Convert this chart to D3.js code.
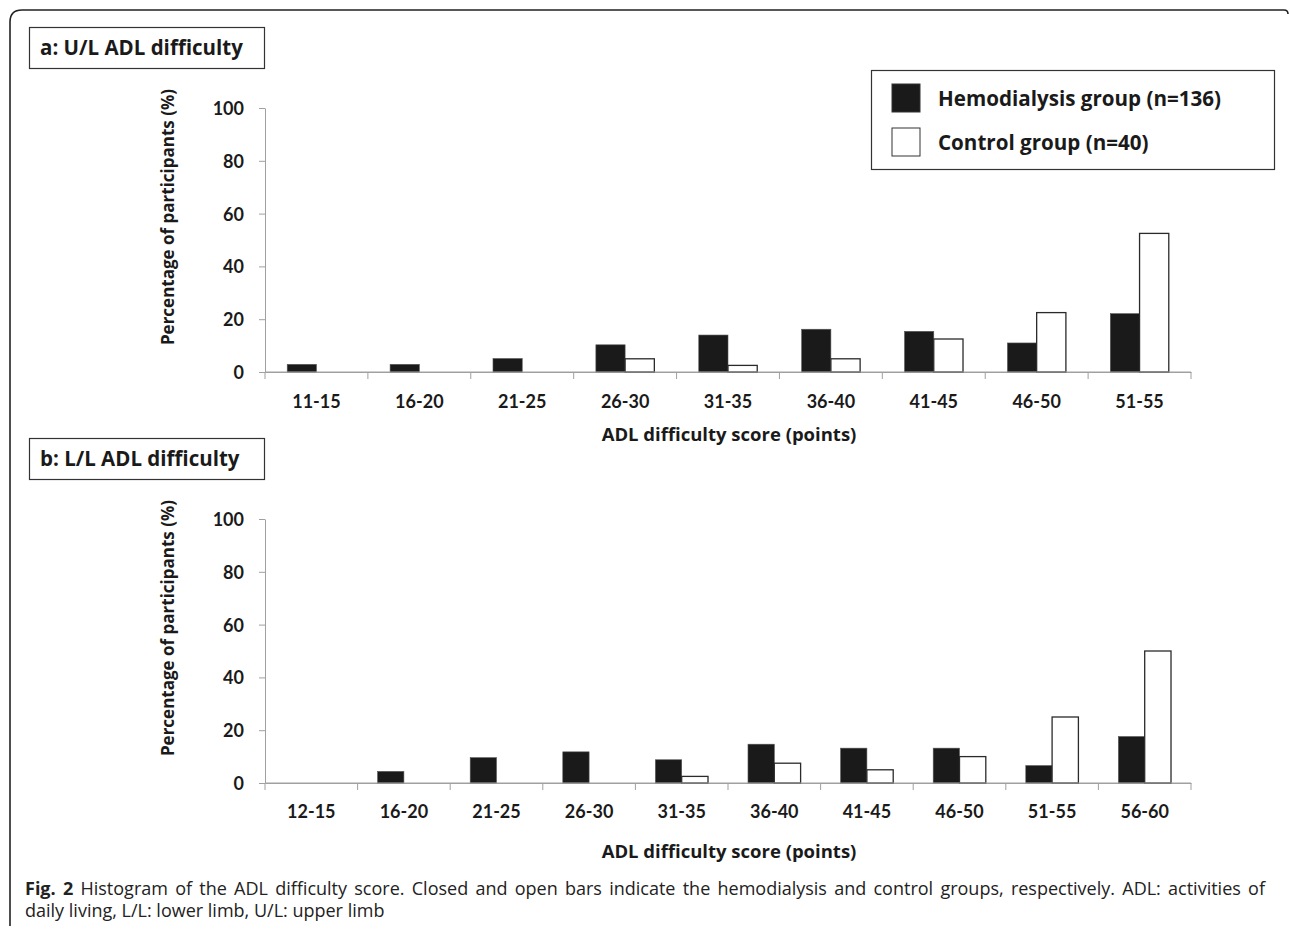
<!DOCTYPE html>
<html>
<head>
<meta charset="utf-8">
<script src="https://cdn.jsdelivr.net/npm/d3@7"></script>
<style>
  body { margin: 0; background: #fff; }
  svg { display: block; font-family: "Open Sans", "Noto Sans", sans-serif; }
  .axis .domain, .axis line { stroke: #a0a0a0; }
  .axis text { font-family: Lato, sans-serif; font-weight: 700; font-size: 18px; fill: #1a1a1a; }
  .lbl { font-weight: 700; fill: #1a1a1a; }
</style>
</head>
<body>
<svg id="chart" width="1290" height="931"></svg>
<script>
// panel a: upper limb
const catsA = ["11-15", "16-20", "21-25", "26-30", "31-35", "36-40", "41-45", "46-50", "51-55"];
const hemoA = [2.9, 2.9, 5.1, 10.3, 14.0, 16.2, 15.4, 11.0, 22.1];
const ctrlA = [0, 0, 0, 5.0, 2.5, 5.0, 12.5, 22.5, 52.5];

// panel b: lower limb
const catsB = ["12-15", "16-20", "21-25", "26-30", "31-35", "36-40", "41-45", "46-50", "51-55", "56-60"];
const hemoB = [0, 4.4, 9.6, 11.8, 8.8, 14.7, 13.2, 13.2, 6.6, 17.6];
const ctrlB = [0, 0, 0, 0, 2.5, 7.5, 5.0, 10.0, 25.0, 50.0];

const yTicks = [0, 20, 40, 60, 80, 100];
const seriesNames = ["Hemodialysis group (n=136)", "Control group (n=40)"];
const seriesKeys = ["hemo", "ctrl"];

const svg = d3.select("#chart");

// outer frame (rounded top-left corner)
svg.append("path")
  .attr("d", "M10,926 L10,22 Q10,10 22,10 L1284,10 Q1288,10 1288,14")
  .attr("fill", "none")
  .attr("stroke", "#222")
  .attr("stroke-width", 1.6);

function drawPanel(config) {
  const { cats, hemo, ctrl, top, bottom, left, right, title, titleY, tickPad, xTitleY, yLabelY } = config;

  const x = d3.scaleBand().domain(cats).range([left, right]).padding(0);
  const xs = d3.scaleBand().domain(seriesKeys).range([0, x.bandwidth()]).paddingOuter(0.76).paddingInner(0);
  const y = d3.scaleLinear().domain([0, 100]).range([bottom, top]);

  const rows = cats.map((c, i) => ({ cat: c, hemo: hemo[i], ctrl: ctrl[i] }));

  // y axis
  svg.append("g")
    .attr("class", "axis")
    .attr("transform", `translate(${left},0)`)
    .call(d3.axisLeft(y).tickValues(yTicks).tickSize(6).tickSizeOuter(0).tickPadding(15))
    .call(g => g.selectAll("text").attr("dy", "0.36em"));

  // x axis (labels centred, ticks at bin boundaries)
  const xg = svg.append("g")
    .attr("class", "axis")
    .attr("transform", `translate(0,${bottom})`)
    .call(d3.axisBottom(x).tickSize(0).tickSizeOuter(0).tickPadding(tickPad));
  const bounds = cats.map(c => x(c)).concat([right]);
  xg.selectAll(".bound")
    .data(bounds)
    .join("line")
    .attr("class", "bound")
    .attr("x1", d => d).attr("x2", d => d)
    .attr("y1", 0).attr("y2", 7);

  // bars
  const grp = svg.append("g")
    .selectAll("g")
    .data(rows)
    .join("g")
    .attr("transform", d => `translate(${x(d.cat)},0)`);

  grp.selectAll("rect")
    .data(d => seriesKeys.map(k => ({ key: k, value: d[k] })).filter(v => v.value > 0))
    .join("rect")
    .attr("x", d => xs(d.key))
    .attr("width", xs.bandwidth())
    .attr("y", d => y(d.value))
    .attr("height", d => y(0) - y(d.value))
    .attr("fill", d => d.key === "hemo" ? "#1a1a1a" : "#fff")
    .attr("stroke", d => d.key === "hemo" ? "#555" : "#2a2a2a")
    .attr("stroke-width", d => d.key === "hemo" ? 0.6 : 1.3);

  // redraw x baseline on top of bars
  svg.append("line")
    .attr("x1", left).attr("x2", right)
    .attr("y1", bottom).attr("y2", bottom)
    .attr("stroke", "#a0a0a0");

  // panel title box
  svg.append("rect")
    .attr("x", 29.5).attr("y", titleY - 27.5)
    .attr("width", 235).attr("height", 41)
    .attr("fill", "#fff").attr("stroke", "#333").attr("stroke-width", 1.2);
  svg.append("text")
    .attr("class", "lbl")
    .attr("x", 40).attr("y", titleY)
    .attr("font-size", 20.5)
    .text(title);

  // y axis label
  svg.append("text")
    .attr("class", "lbl")
    .attr("font-size", 17)
    .attr("text-anchor", "middle")
    .attr("transform", `translate(174,${yLabelY}) rotate(-90)`)
    .text("Percentage of participants (%)");

  // x axis label
  svg.append("text")
    .attr("class", "lbl")
    .attr("font-size", 18.5)
    .attr("text-anchor", "middle")
    .attr("x", 729).attr("y", xTitleY)
    .text("ADL difficulty score (points)");
}

drawPanel({
  cats: catsA, hemo: hemoA, ctrl: ctrlA,
  top: 108, bottom: 372, left: 265, right: 1191,
  title: "a: U/L ADL difficulty", titleY: 55, tickPad: 23, xTitleY: 441, yLabelY: 217
});

drawPanel({
  cats: catsB, hemo: hemoB, ctrl: ctrlB,
  top: 519, bottom: 783, left: 265, right: 1191,
  title: "b: L/L ADL difficulty", titleY: 466, tickPad: 22, xTitleY: 858, yLabelY: 628
});

// legend
const legend = svg.append("g");
legend.append("rect")
  .attr("x", 871.5).attr("y", 70.5).attr("width", 403).attr("height", 99)
  .attr("fill", "#fff").attr("stroke", "#333").attr("stroke-width", 1.2);
const li = legend.selectAll(".item")
  .data(seriesNames)
  .join("g")
  .attr("class", "item")
  .attr("transform", (d, i) => `translate(892,${84 + i * 44})`);
li.append("rect")
  .attr("width", 28).attr("height", 28)
  .attr("fill", (d, i) => i === 0 ? "#1a1a1a" : "#fff")
  .attr("stroke", "#333").attr("stroke-width", 1);
li.append("text")
  .attr("class", "lbl")
  .attr("x", 46).attr("y", 22)
  .attr("font-size", 20.6)
  .text(d => d);

// caption (first line justified to full width via word spacing)
const capLine1 = " Histogram of the ADL difficulty score. Closed and open bars indicate the hemodialysis and control groups, respectively. ADL: activities of";
const cap = svg.append("text")
  .attr("x", 25).attr("y", 895)
  .attr("font-size", 18)
  .attr("fill", "#222");
cap.append("tspan").attr("font-weight", 700).text("Fig. 2");
cap.append("tspan").text(capLine1);
const natural = cap.node().getComputedTextLength();
const nSpaces = ("Fig. 2" + capLine1).split(" ").length - 1;
cap.attr("word-spacing", Math.max(0, (1240 - natural) / nSpaces));

svg.append("text")
  .attr("x", 25).attr("y", 917)
  .attr("font-size", 18)
  .attr("fill", "#222")
  .text("daily living, L/L: lower limb, U/L: upper limb");
</script>
</body>
</html>
